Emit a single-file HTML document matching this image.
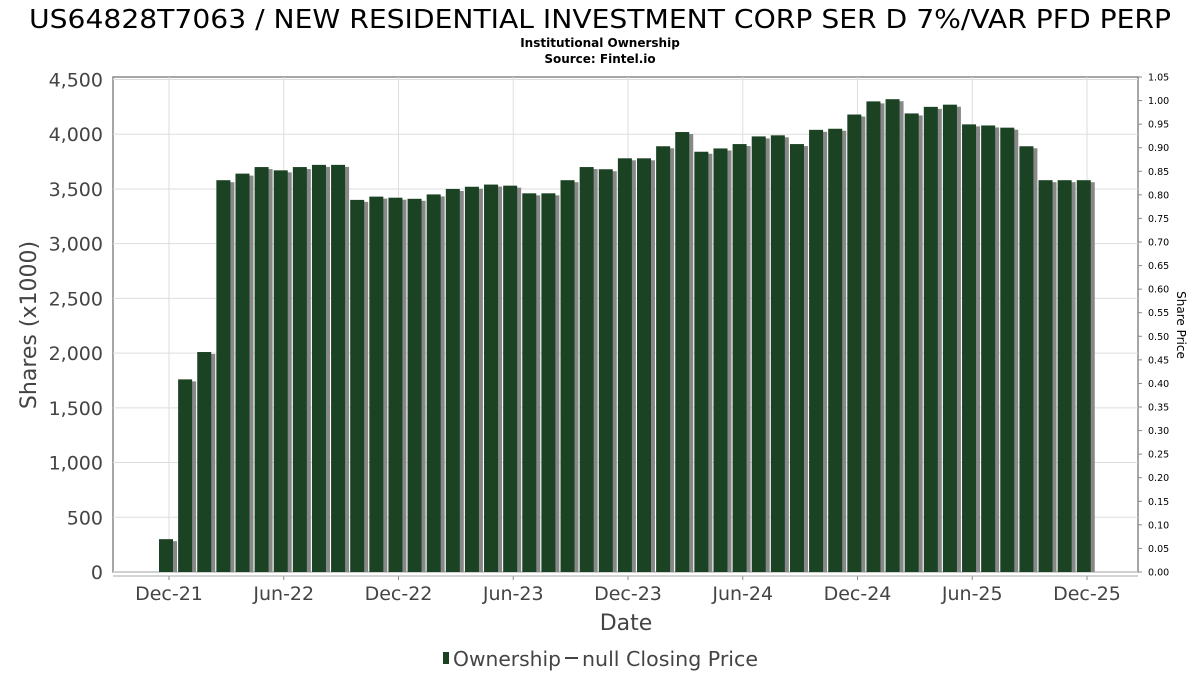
<!DOCTYPE html>
<html><head><meta charset="utf-8"><style>
body{margin:0;background:#fff;}
svg{display:block;font-family:"DejaVu Sans","Liberation Sans",sans-serif;}
</style></head><body>
<svg id="chart" width="1200" height="675" viewBox="0 0 1200 675">
<text x="600" y="28" font-size="26" text-anchor="middle" textLength="1142" lengthAdjust="spacingAndGlyphs" fill="#000">US64828T7063 / NEW RESIDENTIAL INVESTMENT CORP SER D 7%/VAR PFD PERP</text>
<text x="600" y="47" font-size="12" font-weight="bold" text-anchor="middle">Institutional Ownership</text>
<text x="600" y="63" font-size="12" font-weight="bold" text-anchor="middle">Source: Fintel.io</text>
<g id="grid"></g>
<g id="bars"></g>
<g id="axes"></g>
<text transform="translate(36,325) rotate(-90)" font-size="22" fill="#444" text-anchor="middle">Shares (x1000)</text>
<text transform="translate(1177,325) rotate(90)" font-size="12" fill="#000" text-anchor="middle">Share Price</text>
<text x="626" y="630" font-size="22" fill="#444" text-anchor="middle">Date</text>
<g>
<rect x="443" y="652" width="6" height="12" fill="#1c4224"></rect>
<text x="453" y="666" font-size="20" fill="#444" textLength="108" lengthAdjust="spacingAndGlyphs">Ownership</text>
<line x1="565" y1="658" x2="578" y2="658" stroke="#444" stroke-width="2"></line>
<text x="582" y="666" font-size="20" fill="#444" textLength="176" lengthAdjust="spacingAndGlyphs">null Closing Price</text>
</g>
</svg>
<script>
const values=[300,1760,2010,3580,3640,3700,3670,3700,3720,3720,3400,3430,3420,3410,3450,3500,3520,3540,3530,3460,3460,3580,3700,3680,3780,3780,3890,4020,3840,3870,3910,3980,3990,3910,4040,4050,4180,4300,4320,4190,4250,4270,4090,4080,4060,3890,3580,3580,3580];
const yTicks=[0,500,1000,1500,2000,2500,3000,3500,4000,4500];
const rTicks=[0,0.05,0.10,0.15,0.20,0.25,0.30,0.35,0.40,0.45,0.50,0.55,0.60,0.65,0.70,0.75,0.80,0.85,0.90,0.95,1.00,1.05];
const xLabels=["Dec-21","Jun-22","Dec-22","Jun-23","Dec-23","Jun-24","Dec-24","Jun-25","Dec-25"];
const NS="http://www.w3.org/2000/svg";
const L=113,R=1138,T=77,B=572;
const y=v=>B-(v/4500)*(B-79.5);
const yr=v=>B-(v/1.05)*(B-T);
const x=i=>166+i*19.12;
const xl=i=>169+i*114.75;
function mk(tag,attrs,parent,text){const e=document.createElementNS(NS,tag);for(const k in attrs)e.setAttribute(k,attrs[k]);if(text!=null)e.textContent=text;document.getElementById(parent).appendChild(e);return e;}
mk('rect',{x:L,y:T,width:R-L,height:B-T,fill:'#fff',stroke:'#888','stroke-width':1.5},'grid');
yTicks.forEach(v=>{
 const g=mk('line',{x1:L,x2:R,y1:y(v),y2:y(v),stroke:'#ddd'},'grid');
 
 
 const t=mk('text',{x:103,y:y(v)+7,'font-size':19,fill:'#444','text-anchor':'end'},'axes',v.toLocaleString('en-US'));
 
 
});
xLabels.forEach((s,i)=>{
 const g=mk('line',{x1:xl(i),x2:xl(i),y1:T,y2:B,stroke:'#ddd'},'grid');
 
 
 mk('line',{x1:xl(i),x2:xl(i),y1:576,y2:580,stroke:'#888'},'axes');
 const t=mk('text',{x:xl(i),y:600,'font-size':19,fill:'#444','text-anchor':'middle'},'axes',s);
 
 
});
rTicks.forEach(v=>{
 mk('line',{x1:R,x2:R+4,y1:yr(v),y2:yr(v),stroke:'#888'},'axes');
 const t=mk('text',{x:1148,y:yr(v)+3.5,'font-size':9.5,fill:'#000'},'axes',v.toFixed(2));
 
 
});
mk('line',{x1:L,x2:R,y1:576,y2:576,stroke:'#aaa'},'axes');
values.forEach((v,i)=>{
 const s=mk('rect',{x:x(i)-7+4,y:y(v)+2,width:14,height:B-y(v)-2,fill:'#888'},'bars');
 
 
 const b=mk('rect',{x:x(i)-7,y:y(v),width:14,height:B-y(v),fill:'#1c4224'},'bars');
 
 
});
</script>
</body></html>
